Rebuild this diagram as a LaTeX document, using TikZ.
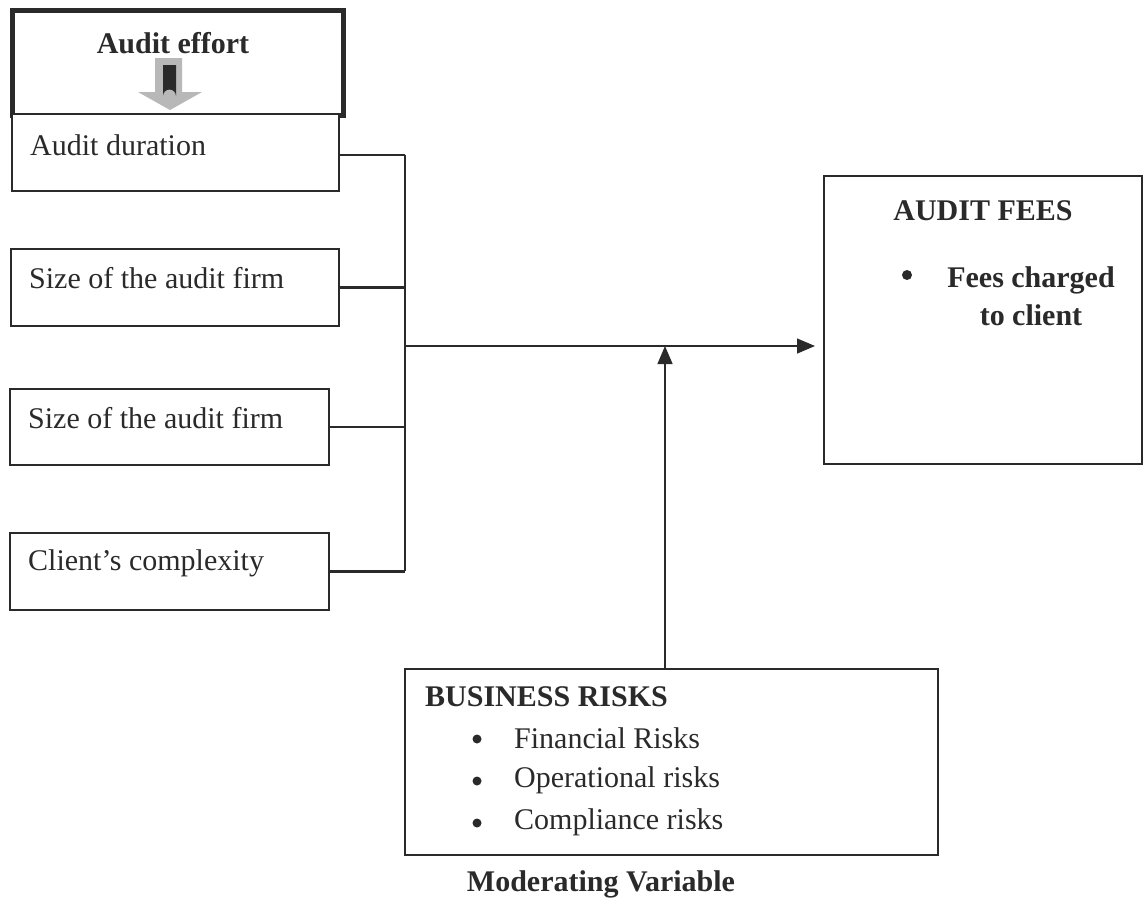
\documentclass[tikz,border=0pt]{standalone}
\usepackage{fontspec}
\setmainfont{Liberation Serif}
\usetikzlibrary{arrows.meta,patterns}
\definecolor{ink}{HTML}{2A2A2A}
\definecolor{arrowgray}{HTML}{B8B8B8}
\tikzset{
  box/.style={draw=ink, line width=1.6pt, fill=white, inner sep=0pt, anchor=north west},
  thickbox/.style={draw=ink, line width=4.5pt, fill=white, inner sep=0pt, anchor=north west},
  lbl/.style={text=ink, font=\fontsize{30}{36}\selectfont, inner sep=0pt},
  blbl/.style={text=ink, font=\fontsize{30}{36}\selectfont\bfseries, inner sep=0pt},
  dot/.style={circle, fill=ink, inner sep=0pt, minimum size=9pt},
  conn/.style={draw=ink, line width=2.4pt},
  bus/.style={draw=ink, line width=1.4pt},
  flow/.style={draw=ink, line width=1.3pt, -{Triangle[length=18pt,width=15pt]}},
}
\begin{document}
\begin{tikzpicture}[x=1pt,y=-1pt]
\useasboundingbox (0,0) rectangle (1148,903);
% boxes
\node[thickbox, minimum width=331, minimum height=105] (eff) at (10,8) {};
\node[box, minimum width=327, minimum height=77] (dur) at (11,113) {};
\node[box, minimum width=328, minimum height=77] (sz1) at (10,248) {};
\node[box, minimum width=319, minimum height=76] (sz2) at (9,388) {};
\node[box, minimum width=319, minimum height=77] (cc) at (9,532) {};
\node[box, minimum width=318, minimum height=288] (fees) at (823,175) {};
\node[box, minimum width=533, minimum height=186] (br) at (404,668) {};
% texts
\node[blbl] (efft) at (173,43) {Audit effort};
\node[lbl, anchor=west] (durt) at (30,145) {Audit duration};
\node[lbl, anchor=west] (sz1t) at (29,278) {Size of the audit firm};
\node[lbl, anchor=west] (sz2t) at (28,418) {Size of the audit firm};
\node[lbl, anchor=west] (cct) at (28,563) {Client’s complexity};
\node[blbl] (feest) at (983,211) {AUDIT FEES};
\node[dot, minimum size=10pt] (feesb) at (907,275) {};
\node[blbl, align=center] (feesi) at (1031,296) {Fees charged\\[2pt]to client};
\node[blbl, anchor=west] (brt) at (425,697) {BUSINESS RISKS};
\node[dot] (b1) at (477,739) {};
\node[lbl, anchor=west] (i1) at (514,738) {Financial Risks};
\node[dot] (b2) at (477,781) {};
\node[lbl, anchor=west] (i2) at (514,780) {Operational risks};
\node[dot] (b3) at (477,823) {};
\node[lbl, anchor=west] (i3) at (514,822) {Compliance risks};
\node[blbl] (mod) at (601,884) {Moderating Variable};
% down arrow inside audit effort box
\fill[arrowgray] (155,58) -- (182,58) -- (182,92) -- (202,92) -- (170,110) -- (138,92) -- (155,92) -- cycle;
\fill[ink] (163,65) -- (176,65) -- (176,96) arc[start angle=0,end angle=-180,radius=6.5] -- cycle;
% connectors
\coordinate (bustop) at (405,155);
\coordinate (j) at (405,346);
\draw[conn] (338,155) -- (bustop);
\draw[conn] (sz1.east) -- (sz1.east -| bustop);
\draw[conn] (sz2.east) -- (sz2.east -| bustop);
\draw[conn] (cc.east) -- (cc.east -| bustop);
\draw[bus] (bustop) -- (cc.east -| bustop);
\draw[flow, shorten >=8pt] (j) -- (fees.west |- j);
\draw[flow] (br.north -| 665,0) -- (665,346);
\end{tikzpicture}
\end{document}
